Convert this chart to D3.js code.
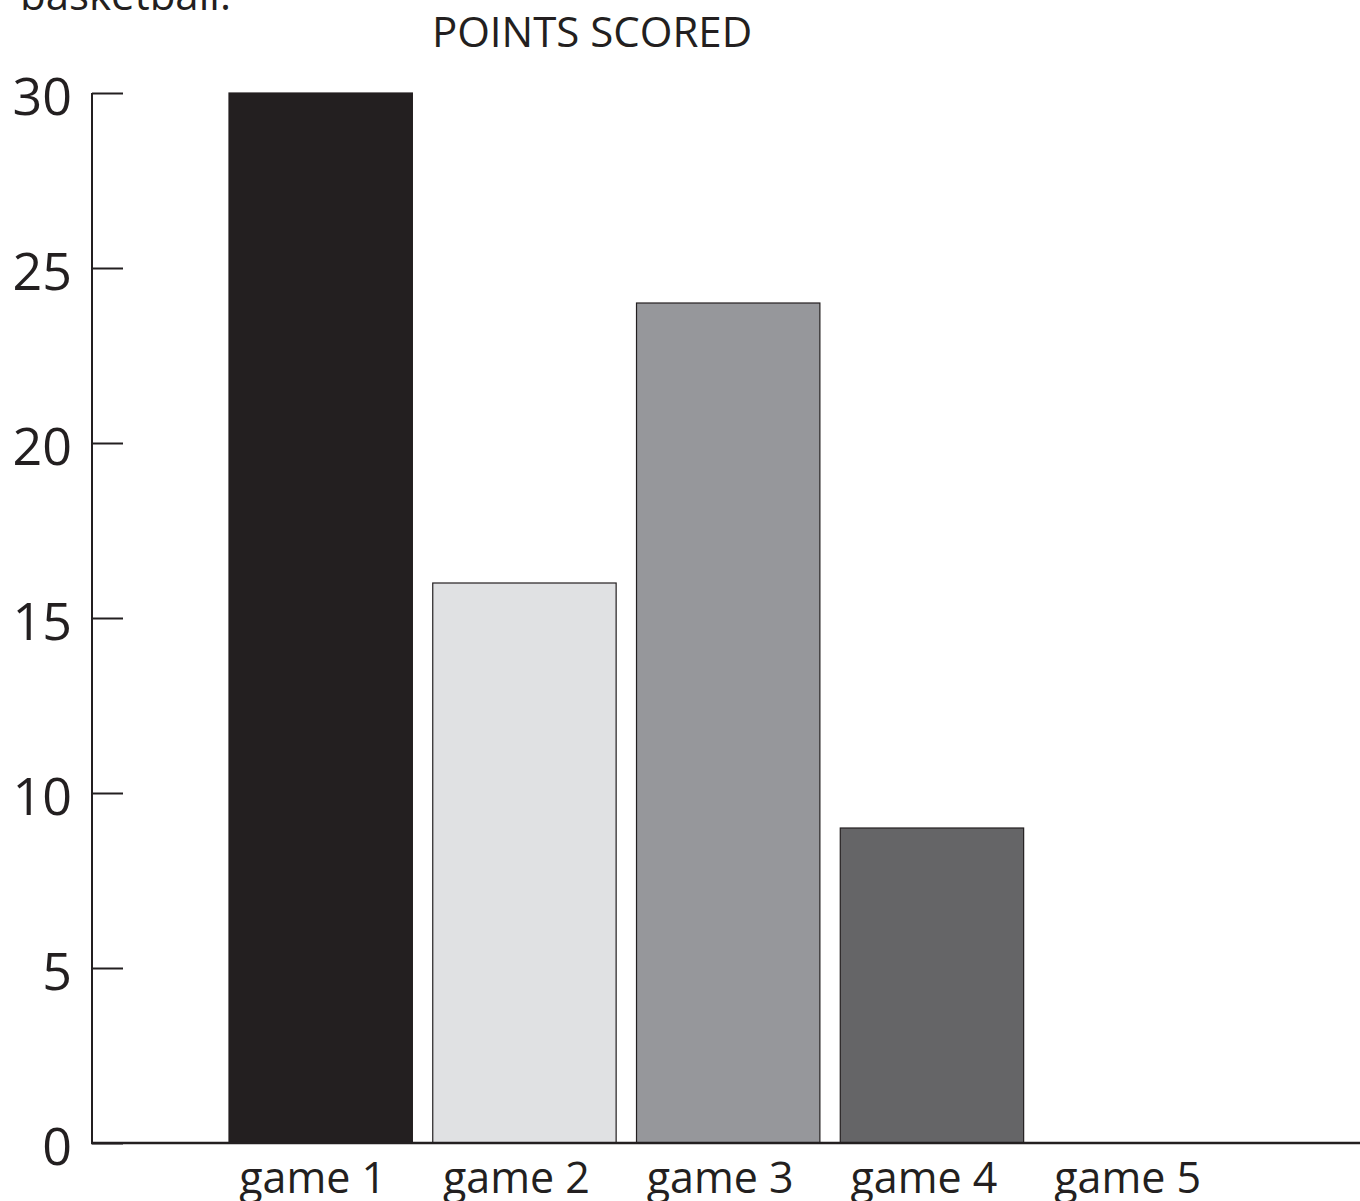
<!DOCTYPE html>
<html>
<head>
<meta charset="utf-8">
<style>
  body { margin: 0; background: #fff; }
  svg text { font-family: "Open Sans", "Noto Sans", sans-serif; fill: #231f20; }
</style>
</head>
<body>
<svg width="1360" height="1201"></svg>
<script src="https://d3js.org/d3.v7.min.js"></script>
<script>

	// Data.
	var games = ["game 1", "game 2", "game 3", "game 4", "game 5"];
	var points = [30, 16, 24, 9, 0];
	var barColors = ["#231f20", "#e0e1e3", "#96979b", "#656567", "#ffffff"];
	var yTicks = [0, 5, 10, 15, 20, 25, 30];

	var svg = d3.select("svg"),
		ink = "#231f20";

	// Scales.
	var x = d3.scaleBand()
		.domain(games)
		.range([229, 1227.4])
		.paddingInner(0.1)
		.paddingOuter(0);

	var y = d3.scaleLinear()
		.domain([0, 30])
		.range([1143, 93]);

	// Cut-off caption at the very top.
	svg.append("text")
		.attr("x", 20)
		.attr("y", 10)
		.style("font-size", "42px")
		.text("basketball.");

	// Title.
	svg.append("text")
		.attr("x", 592)
		.attr("y", 47)
		.attr("text-anchor", "middle")
		.style("font-size", "42px")
		.text("POINTS SCORED");

	// Bars.
	svg.append("g").selectAll("rect")
		.data(games)
		.enter()
		.filter(function(d, i) { return points[i] > 0; })
		.append("rect")
			.attr("x", function(d) { return x(d); })
			.attr("y", function(d) { return y(points[games.indexOf(d)]); })
			.attr("width", x.bandwidth())
			.attr("height", function(d) { return y(0) - y(points[games.indexOf(d)]); })
			.style("fill", function(d) { return barColors[games.indexOf(d)]; })
			.style("stroke", ink)
			.style("stroke-width", 1.2);

	// Y axis with ticks pointing into the plot.
	var yAxis = svg.append("g")
		.attr("transform", "translate(92,0)")
		.call(d3.axisRight(y).tickValues(yTicks).tickSize(31).tickFormat(""));
	yAxis.select(".domain").remove();
	yAxis.selectAll("line").style("stroke", ink).style("stroke-width", 2);

	svg.append("line")
		.attr("x1", 92).attr("x2", 92)
		.attr("y1", y(30)).attr("y2", y(0))
		.style("stroke", ink).style("stroke-width", 2);

	// Y tick labels.
	svg.append("g").selectAll("text")
		.data(yTicks)
		.enter()
		.append("text")
			.attr("x", 72)
			.attr("y", function(d) { return y(d) + 22; })
			.attr("text-anchor", "end")
			.style("font-size", "52px")
			.text(function(d) { return d; });

	// X axis baseline.
	svg.append("line")
		.attr("x1", 91).attr("x2", 1360)
		.attr("y1", y(0)).attr("y2", y(0))
		.style("stroke", ink).style("stroke-width", 2.5);

	// Category labels.
	svg.append("g").selectAll("text")
		.data(games)
		.enter()
		.append("text")
			.attr("x", function(d) { return x(d) + x.bandwidth() / 2 - 8; })
			.attr("y", 1193)
			.attr("text-anchor", "middle")
			.style("font-size", "43px")
			.text(function(d) { return d; });

</script>
</body>
</html>
